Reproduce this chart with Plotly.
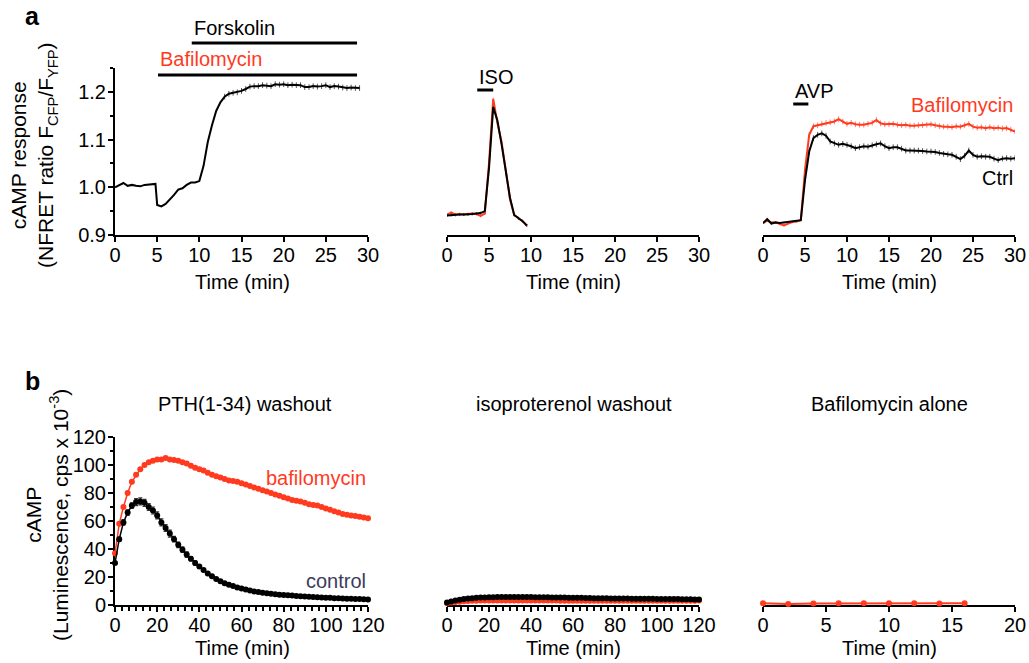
import plotly.graph_objects as go

W, H = 1029, 663
RED = '#FF3A1E'
BLACK = '#000000'
CTRL_TXT = '#3C3C5A'
FONT = 'Arial, Liberation Sans, sans-serif'

# ---------------- data (panel a) ----------------
# a1: forskolin + bafilomycin, FRET ratio
a1_t = [0, 0.5, 1, 1.5, 2, 2.5, 3, 3.5, 4, 4.5, 4.8, 5, 5.5, 6, 6.5, 7, 7.5, 8, 8.5, 9, 9.5, 10,
        10.5, 11, 11.5, 12, 12.5, 13, 13.5, 14, 14.5, 15, 15.5, 16, 16.5, 17, 17.5, 18, 18.5, 19,
        19.5, 20, 20.5, 21, 21.5, 22, 22.5, 23, 23.5, 24, 24.5, 25, 25.5, 26, 26.5, 27, 27.5, 28,
        28.5, 29]
a1_v = [1.000, 1.004, 1.009, 1.003, 1.005, 1.003, 1.002, 1.005, 1.006, 1.007, 1.007, 0.963, 0.960,
        0.965, 0.974, 0.984, 0.995, 0.998, 1.005, 1.010, 1.010, 1.013, 1.045, 1.095, 1.130, 1.160,
        1.178, 1.190, 1.196, 1.198, 1.199, 1.202, 1.206, 1.211, 1.212, 1.212, 1.214, 1.213, 1.212,
        1.216, 1.215, 1.216, 1.214, 1.215, 1.214, 1.214, 1.210, 1.210, 1.212, 1.211, 1.212, 1.214,
        1.210, 1.212, 1.211, 1.209, 1.208, 1.209, 1.208, 1.208]
a1_e = [0.001] * 27 + [0.006] * 33

# a2: ISO pulse, control (black) and bafilomycin (red)
a2_t = [0, 0.5, 1, 1.5, 2, 2.5, 3, 3.5, 4, 4.5, 5, 5.5, 6, 6.5, 7, 7.5, 8, 8.5, 9, 9.5]
a2_ctrl = [0.941, 0.942, 0.942, 0.943, 0.943, 0.943, 0.944, 0.945, 0.946, 0.950, 1.040, 1.168,
           1.140, 1.090, 1.030, 0.978, 0.942, 0.935, 0.929, 0.920]
a2_baf = [0.943, 0.947, 0.943, 0.944, 0.943, 0.944, 0.945, 0.944, 0.940, 0.945, 1.050, 1.185,
          1.135, 1.095, 1.030, 0.975, 0.942, 0.935, 0.929, 0.920]
a2_e = [0.003] * 20

# a3: AVP, control (black) and bafilomycin (red)
a3_t = [0, 0.5, 1, 1.5, 2, 2.5, 3, 3.5, 4, 4.5, 5, 5.5, 6, 6.5, 7, 7.5, 8, 8.5, 9, 9.5, 10,
        10.5, 11, 11.5, 12, 12.5, 13, 13.5, 14, 14.5, 15, 15.5, 16, 16.5, 17, 17.5, 18, 18.5, 19,
        19.5, 20, 20.5, 21, 21.5, 22, 22.5, 23, 23.5, 24, 24.5, 25, 25.5, 26, 26.5, 27, 27.5, 28,
        28.5, 29, 29.5, 30]
a3_ctrl = [0.925, 0.933, 0.924, 0.926, 0.925, 0.926, 0.927, 0.928, 0.929, 0.931, 1.015, 1.075,
           1.103, 1.110, 1.113, 1.108, 1.096, 1.092, 1.089, 1.091, 1.089, 1.086, 1.082, 1.084,
           1.086, 1.085, 1.088, 1.090, 1.092, 1.086, 1.082, 1.084, 1.084, 1.081, 1.077, 1.077,
           1.077, 1.077, 1.076, 1.075, 1.075, 1.074, 1.072, 1.070, 1.069, 1.068, 1.064, 1.059,
           1.066, 1.077, 1.068, 1.064, 1.065, 1.064, 1.064, 1.060, 1.057, 1.060, 1.061, 1.060,
           1.061]
a3_baf = [0.925, 0.930, 0.926, 0.927, 0.923, 0.920, 0.924, 0.927, 0.928, 0.931, 1.036, 1.110,
          1.128, 1.130, 1.133, 1.135, 1.136, 1.138, 1.143, 1.138, 1.133, 1.135, 1.132, 1.131,
          1.131, 1.133, 1.135, 1.141, 1.134, 1.132, 1.132, 1.133, 1.131, 1.130, 1.131, 1.129,
          1.129, 1.130, 1.130, 1.131, 1.132, 1.130, 1.128, 1.127, 1.127, 1.126, 1.128, 1.127,
          1.130, 1.133, 1.127, 1.125, 1.126, 1.124, 1.126, 1.124, 1.125, 1.123, 1.124, 1.121,
          1.117]
a3_e = [0.002] * 10 + [0.006] * 51

# treatment windows (min)
forskolin_window = [9.1, 28.7]
bafilomycin_window = [5.1, 28.7]
iso_window = [3.6, 5.5]
avp_window = [3.6, 5.4]

# ---------------- data (panel b) ----------------
b_t = list(range(0, 121, 2))
b1_baf = [37, 58, 70, 80, 88, 93, 97, 100, 102, 103,
          104, 104, 105, 104, 103.5, 103, 102, 101, 99.5, 98,
          97, 96, 94.5, 93, 92, 91, 90, 89, 88.5, 88,
          87, 86, 85, 84, 83, 82, 81, 80, 79, 78,
          77, 76, 75, 74.5, 74, 73, 72, 71.5, 71, 70,
          69, 68, 67, 66, 65, 64.5, 64, 63.5, 63, 62.5,
          62]
b1_ctrl = [30, 47, 59, 66, 71, 73.5, 74, 73, 70, 67.5,
           64, 59, 55, 51, 47, 43, 39.5, 36, 33, 30,
           27.5, 25, 22.5, 20.5, 18.5, 17, 15.5, 14.5, 13.5, 12.5,
           11.8, 11, 10.3, 9.7, 9.2, 8.8, 8.4, 8, 7.7, 7.4,
           7.1, 6.9, 6.7, 6.5, 6.3, 6.1, 5.9, 5.7, 5.5, 5.4,
           5.2, 5.1, 4.9, 4.8, 4.6, 4.5, 4.4, 4.3, 4.2, 4.1,
           4.0]
b1_ctrl_e = [1, 1.5, 2, 2, 2, 2.5, 2.5, 2.5, 2.5, 2.5,
             2.5, 2.5, 2.5, 2.5, 2, 2, 2, 2, 1.5, 1.5,
             1, 1, 1, 1, 1, 1, 1, 1, 1, 1,
             0.5, 0.5, 0.5, 0.5, 0.5, 0.5, 0.5, 0.5, 0.5, 0.5,
             0.5, 0.5, 0.5, 0.5, 0.5, 0.5, 0.5, 0.5, 0.5, 0.5,
             0.5, 0.5, 0.5, 0.5, 0.5, 0.5, 0.5, 0.5, 0.5, 0.5,
             0.5]
b2_ctrl = [1.7, 2.5, 3.2, 3.8, 4.2, 4.6, 4.9, 5.1, 5.3, 5.4,
           5.5, 5.6, 5.7, 5.7, 5.8, 5.8, 5.8, 5.8, 5.7, 5.7,
           5.7, 5.6, 5.6, 5.5, 5.5, 5.4, 5.4, 5.3, 5.3, 5.2,
           5.2, 5.1, 5.1, 5.0, 5.0, 4.9, 4.9, 4.8, 4.8, 4.7,
           4.7, 4.6, 4.6, 4.6, 4.5, 4.5, 4.5, 4.4, 4.4, 4.4,
           4.3, 4.3, 4.3, 4.2, 4.2, 4.2, 4.1, 4.1, 4.1, 4.0,
           4.0]
b2_baf = [1.2, 1.7, 2.1, 2.4, 2.7, 2.9, 3.0, 3.1, 3.2, 3.2,
          3.3, 3.3, 3.3, 3.3, 3.3, 3.3, 3.3, 3.3, 3.3, 3.3,
          3.2, 3.2, 3.2, 3.2, 3.2, 3.2, 3.2, 3.1, 3.1, 3.1,
          3.1, 3.1, 3.1, 3.1, 3.1, 3.1, 3.0, 3.0, 3.0, 3.0,
          3.0, 3.0, 3.0, 3.0, 3.0, 3.0, 3.0, 3.0, 3.0, 3.0,
          3.0, 3.0, 3.0, 3.0, 3.0, 3.0, 3.0, 3.0, 3.0, 3.0,
          3.2]
b3_t = [0, 2, 4, 6, 8, 10, 12, 14, 16]
b3_baf = [1.2, 0.8, 1.1, 1.2, 1.2, 1.2, 1.2, 1.1, 1.2]

# ---------------- layout helpers ----------------
def px_x(p):
    return p / W


def px_y(p):
    return 1 - p / H


a_dom_y = [px_y(235), px_y(68)]
b_dom_y = [px_y(605), px_y(437)]
col_dom = [[px_x(115), px_x(368)], [px_x(447), px_x(699)], [px_x(763), px_x(1015)]]

fig = go.Figure()


def err(arr, color, thick=1, width=0):
    return dict(type='data', array=arr, color=color, thickness=thick, width=width, visible=True)


# panel a traces
fig.add_trace(go.Scatter(x=a1_t, y=a1_v, mode='lines', line=dict(color=BLACK, width=2),
                         error_y=err(a1_e, '#555555'), xaxis='x', yaxis='y', showlegend=False))
fig.add_trace(go.Scatter(x=a2_t, y=a2_baf, mode='lines', line=dict(color=RED, width=2),
                         error_y=err(a2_e, '#FF8070'), xaxis='x2', yaxis='y2', showlegend=False))
fig.add_trace(go.Scatter(x=a2_t, y=a2_ctrl, mode='lines', line=dict(color=BLACK, width=2),
                         error_y=err(a2_e, '#555555'), xaxis='x2', yaxis='y2', showlegend=False))
fig.add_trace(go.Scatter(x=a3_t, y=a3_baf, mode='lines', line=dict(color=RED, width=2),
                         error_y=err(a3_e, '#FF8070'), xaxis='x3', yaxis='y3', showlegend=False))
fig.add_trace(go.Scatter(x=a3_t, y=a3_ctrl, mode='lines', line=dict(color=BLACK, width=2),
                         error_y=err(a3_e, '#555555'), xaxis='x3', yaxis='y3', showlegend=False))

# panel b traces
fig.add_trace(go.Scatter(x=b_t, y=b1_baf, mode='lines+markers', line=dict(color=RED, width=1.5),
                         marker=dict(color=RED, size=6), cliponaxis=False,
                         xaxis='x4', yaxis='y4', showlegend=False))
fig.add_trace(go.Scatter(x=b_t, y=b1_ctrl, mode='lines+markers', line=dict(color=BLACK, width=1.5),
                         marker=dict(color=BLACK, size=6), cliponaxis=False,
                         error_y=err(b1_ctrl_e, '#333333', 1.2, 2),
                         xaxis='x4', yaxis='y4', showlegend=False))
fig.add_trace(go.Scatter(x=b_t, y=b2_baf, mode='lines+markers', line=dict(color=RED, width=1.5),
                         marker=dict(color=RED, size=6), cliponaxis=False,
                         xaxis='x5', yaxis='y5', showlegend=False))
fig.add_trace(go.Scatter(x=b_t, y=b2_ctrl, mode='lines+markers', line=dict(color=BLACK, width=1.5),
                         marker=dict(color=BLACK, size=6), cliponaxis=False,
                         xaxis='x5', yaxis='y5', showlegend=False))
fig.add_trace(go.Scatter(x=b3_t, y=b3_baf, mode='lines+markers', line=dict(color=RED, width=2),
                         marker=dict(color=RED, size=6), cliponaxis=False,
                         xaxis='x6', yaxis='y6', showlegend=False))

tickfont = dict(family=FONT, size=20, color='black')
base = dict(showline=True, linecolor='black', linewidth=2, ticks='outside', ticklen=5,
            tickwidth=2, tickcolor='black', showgrid=False, zeroline=False, tickfont=tickfont,
            fixedrange=True, layer='below traces', automargin=False)
xbase = dict(base, ticklabelstandoff=-4)
ybase = dict(base, ticklabelstandoff=-2)

# a axes
for i, ax in enumerate(['xaxis', 'xaxis2', 'xaxis3']):
    fig.update_layout({ax: dict(xbase, domain=col_dom[i], range=[0, 30], tickmode='linear',
                                tick0=0, dtick=5, anchor='y' if i == 0 else 'y%d' % (i + 1))})
fig.update_layout(yaxis=dict(ybase, domain=a_dom_y, range=[0.9, 1.25], tickmode='linear', tick0=0.9,
                             dtick=0.1, tickformat='.1f', anchor='x',
                             minor=dict(ticks='outside', ticklen=3, tickwidth=2, tickcolor='black',
                                        tickmode='linear', tick0=0.9, dtick=0.05, showgrid=False)))
fig.update_layout(yaxis2=dict(domain=a_dom_y, range=[0.9, 1.25], visible=False, anchor='x2',
                              fixedrange=True, automargin=False),
                  yaxis3=dict(domain=a_dom_y, range=[0.9, 1.25], visible=False, anchor='x3',
                              fixedrange=True, automargin=False))

# b axes
minor_x = dict(ticks='outside', ticklen=4, tickwidth=2, tickcolor='black', tickmode='linear',
               tick0=0, dtick=20 / 6, showgrid=False)
fig.update_layout(
    xaxis4=dict(xbase, domain=col_dom[0], range=[0, 120], tickmode='linear', tick0=0, dtick=20,
                anchor='y4', minor=minor_x),
    xaxis5=dict(xbase, domain=col_dom[1], range=[0, 120], tickmode='linear', tick0=0, dtick=20,
                anchor='y5', minor=minor_x),
    xaxis6=dict(xbase, domain=col_dom[2], range=[0, 20], tickmode='linear', tick0=0, dtick=5,
                anchor='y6'),
    yaxis4=dict(ybase, domain=b_dom_y, range=[0, 120], tickmode='linear', tick0=0, dtick=20,
                anchor='x4',
                minor=dict(ticks='outside', ticklen=3, tickwidth=2, tickcolor='black',
                           tickmode='linear', tick0=0, dtick=10, showgrid=False)),
    yaxis5=dict(domain=b_dom_y, range=[0, 120], visible=False, anchor='x5', fixedrange=True,
                automargin=False),
    yaxis6=dict(domain=b_dom_y, range=[0, 120], visible=False, anchor='x6', fixedrange=True,
                automargin=False),
)

# ---------------- annotations ----------------
ann = []


def txt(text, x, y, size=20, color='black', xanchor='center', yanchor='middle', xref='paper',
        angle=0, bold=False):
    ann.append(dict(text=('<b>%s</b>' % text) if bold else text, x=x, y=y, xref=xref, yref='paper',
                    showarrow=False, xanchor=xanchor, yanchor=yanchor, textangle=angle,
                    font=dict(family=FONT, size=size, color=color)))


txt('a', px_x(32), px_y(16), size=25, bold=True)
txt('b', px_x(32), px_y(381), size=25, bold=True)

txt('cAMP response<br>(NFRET ratio F<sub>CFP</sub>/F<sub>YFP</sub>)', px_x(34), px_y(155),
    size=21, angle=-90)
txt('cAMP<br>(Luminescence, cps x 10<sup>-3</sup>)', px_x(47), px_y(515), size=21, angle=-90)

for cx in [242, 573, 889]:
    txt('Time (min)', px_x(cx), px_y(282))
    txt('Time (min)', px_x(cx), px_y(648))

txt('PTH(1-34) washout', px_x(245), px_y(404))
txt('isoproterenol washout', px_x(574), px_y(404))
txt('Bafilomycin alone', px_x(889), px_y(404))

txt('Forskolin', forskolin_window[0], px_y(28), xanchor='left', xref='x')
txt('Bafilomycin', bafilomycin_window[0], px_y(59), color=RED, xanchor='left', xref='x')
txt('ISO', iso_window[0], px_y(77), xanchor='left', xref='x2')
txt('AVP', avp_window[0], px_y(91), xanchor='left', xref='x3')
txt('Bafilomycin', 30, px_y(105), color=RED, xanchor='right', xref='x3')
txt('Ctrl', 30, px_y(178), xanchor='right', xref='x3')
txt('bafilomycin', 120, px_y(478), color=RED, xanchor='right', xref='x4')
txt('control', 120, px_y(581), color=CTRL_TXT, xanchor='right', xref='x4')

shapes = []
for win, xr, ypix in [(forskolin_window, 'x', 43), (bafilomycin_window, 'x', 75),
                      (iso_window, 'x2', 90), (avp_window, 'x3', 104)]:
    shapes.append(dict(type='line', xref=xr, yref='paper', x0=win[0], x1=win[1],
                       y0=px_y(ypix), y1=px_y(ypix), line=dict(color='black', width=3)))

fig.update_layout(width=W, height=H, margin=dict(l=0, r=0, t=0, b=0),
                  paper_bgcolor='white', plot_bgcolor='white',
                  annotations=ann, shapes=shapes, showlegend=False,
                  font=dict(family=FONT, size=20, color='black'))

fig.write_html('out.html', config={'displayModeBar': False},
               post_script="document.body.style.margin='0';document.body.style.overflow='hidden';")
